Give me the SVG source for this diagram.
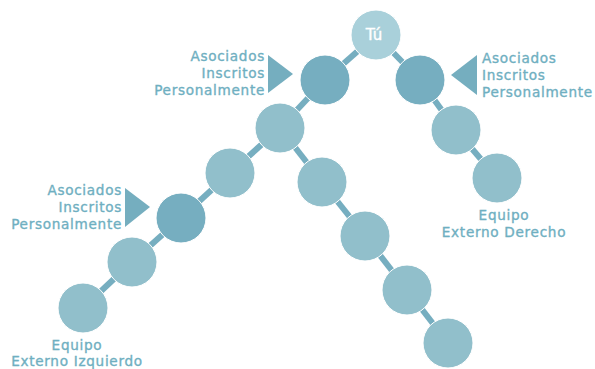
<svg xmlns="http://www.w3.org/2000/svg" width="595" height="369" viewBox="0 0 595 369">
<style>
.lbl{font-family:"DejaVu Sans","Open Sans",sans-serif;font-size:13.6px;fill:#6fafc1;stroke:#6fafc1;stroke-width:0.35px;letter-spacing:0.7px}
.r{text-anchor:end}
.m{text-anchor:middle}
.dark{fill:#76aec0;stroke:#ffffff;stroke-width:1}
.mid{fill:#91bfcb;stroke:#ffffff;stroke-width:1}
.top{fill:#a9d0da;stroke:#ffffff;stroke-width:1}
.tri{fill:#75aebf}
#connectors line{stroke:#76aec0;stroke-width:6}
</style>
<rect width="595" height="369" fill="#ffffff"/>
<g id="connectors">
<line x1="376" y1="35" x2="325" y2="80"/>
<line x1="376" y1="35" x2="420" y2="80"/>
<line x1="325" y1="80" x2="280" y2="128"/>
<line x1="280" y1="128" x2="230" y2="173"/>
<line x1="230" y1="173" x2="181" y2="218"/>
<line x1="181" y1="218" x2="132" y2="262"/>
<line x1="132" y1="262" x2="83" y2="308"/>
<line x1="280" y1="128" x2="322" y2="182"/>
<line x1="322" y1="182" x2="365" y2="236"/>
<line x1="365" y1="236" x2="407" y2="290"/>
<line x1="407" y1="290" x2="448" y2="343"/>
<line x1="420" y1="80" x2="456" y2="130"/>
<line x1="456" y1="130" x2="497" y2="178"/>
</g>
<g id="tu"><circle class="top" cx="376" cy="35" r="25"/><text x="374" y="40" text-anchor="middle" style="font-family:'DejaVu Sans','Open Sans',sans-serif;font-size:15px;fill:#ffffff;stroke:#ffffff;stroke-width:0.4px">Tú</text></g>
<g id="left-sponsored"><circle class="dark" cx="325" cy="80" r="25"/></g>
<g id="right-sponsored"><circle class="dark" cx="420" cy="80" r="25"/></g>
<g id="n-280-128"><circle class="mid" cx="280" cy="128" r="25"/></g>
<g id="n-230-173"><circle class="mid" cx="230" cy="173" r="25"/></g>
<g id="lower-sponsored"><circle class="dark" cx="181" cy="218" r="25"/></g>
<g id="n-132-262"><circle class="mid" cx="132" cy="262" r="25"/></g>
<g id="n-83-308"><circle class="mid" cx="83" cy="308" r="25"/></g>
<g id="n-322-182"><circle class="mid" cx="322" cy="182" r="25"/></g>
<g id="n-365-236"><circle class="mid" cx="365" cy="236" r="25"/></g>
<g id="n-407-290"><circle class="mid" cx="407" cy="290" r="25"/></g>
<g id="n-448-343"><circle class="mid" cx="448" cy="343" r="25"/></g>
<g id="n-456-130"><circle class="mid" cx="456" cy="130" r="25"/></g>
<g id="n-497-178"><circle class="mid" cx="497" cy="178" r="25"/></g>
<g id="label-left-top">
<polygon class="tri" points="268,55 268,93 293,74"/>
<text class="lbl r" x="265" y="61">Asociados</text>
<text class="lbl r" x="265" y="78">Inscritos</text>
<text class="lbl r" x="265" y="95">Personalmente</text>
</g>
<g id="label-right-top">
<polygon class="tri" points="477,55 477,95 451,75"/>
<text class="lbl" x="482" y="63">Asociados</text>
<text class="lbl" x="482" y="80">Inscritos</text>
<text class="lbl" x="482" y="97">Personalmente</text>
</g>
<g id="label-left-lower">
<polygon class="tri" points="125,188 125,227 150,207"/>
<text class="lbl r" x="122" y="195">Asociados</text>
<text class="lbl r" x="122" y="212">Inscritos</text>
<text class="lbl r" x="122" y="229">Personalmente</text>
</g>
<g id="label-right-team">
<text class="lbl m" x="504" y="220">Equipo</text>
<text class="lbl m" x="504" y="237">Externo Derecho</text>
</g>
<g id="label-left-team">
<text class="lbl m" x="77" y="350">Equipo</text>
<text class="lbl m" x="77" y="366">Externo Izquierdo</text>
</g>
</svg>
